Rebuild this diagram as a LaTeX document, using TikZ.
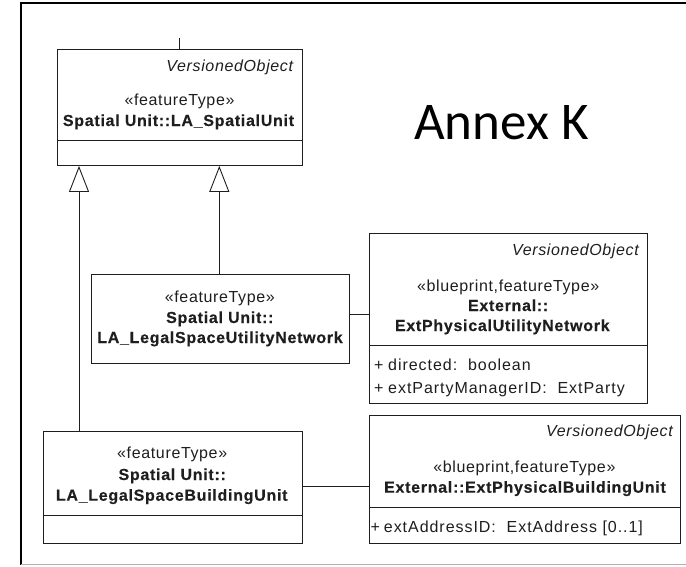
\documentclass[tikz,border=0pt]{standalone}
\usepackage{fontspec}
\setmainfont{Liberation Sans}[LetterSpace=4]
\newfontfamily\boldui{Liberation Sans Bold}[LetterSpace=4.5, FakeBold=0.4]
\newfontfamily\attrfont{Liberation Sans}[LetterSpace=6]
\newfontfamily\annexfont{Carlito}
\usetikzlibrary{arrows.meta}
\definecolor{ink}{HTML}{1E1E1E}
\begin{document}
\begin{tikzpicture}[x=1pt,y=-1pt,
  umlbox/.style={draw=ink, line width=0.9pt, rectangle, inner sep=0pt, anchor=north west},
  lbl/.style={inner sep=0pt, text=ink, font=\fontsize{16}{19}\selectfont},
  ttl/.style={lbl, font=\fontsize{16}{19}\boldui},
  tag/.style={lbl, font=\fontsize{16}{19}\itshape},
  attr/.style={lbl, anchor=base west, font=\fontsize{16}{19}\attrfont},
  assoc/.style={draw=ink, line width=0.9pt},
  gen/.style={draw=ink, line width=0.9pt,
    -{Triangle[open, length=26pt, width=20pt, fill=white]}}
]
\useasboundingbox (0,0) rectangle (686,566);

% frame
\draw[black, line width=2pt] (686,3.3) -- (20.5,3.3) -- (20.5,565);
\draw[gray!60, line width=1pt] (20.5,564.3) -- (686,564.3);

% LA_SpatialUnit
\node[umlbox, minimum width=245pt, minimum height=116pt] (su) at (57,49) {};
\draw[ink, line width=0.9pt] ([yshift=-91pt]su.north west) -- ([yshift=-91pt]su.north east);
\node[tag, anchor=base east] (suv) at (293.3,71) {VersionedObject};
\node[lbl, anchor=base] (sus) at (179.5,105) {«featureType»};
\node[ttl, anchor=base] (sun) at (178.5,126) {Spatial Unit::LA\_SpatialUnit};
\coordinate (suup) at (179,38);
\draw[assoc] (suup) -- (suup |- su.north);

% LA_LegalSpaceUtilityNetwork
\node[umlbox, minimum width=258.3pt, minimum height=88.7pt] (un) at (90.7,274) {};
\node[lbl, anchor=base] (uns) at (219.85,302.7) {«featureType»};
\node[ttl, anchor=base] (unp) at (219.85,323) {Spatial Unit::};
\node[ttl, anchor=base] (unn) at (220,343) {LA\_LegalSpaceUtilityNetwork};

% ExtPhysicalUtilityNetwork
\node[umlbox, minimum width=278.3pt, minimum height=170pt] (pn) at (369,232.7) {};
\draw[ink, line width=0.9pt] ([yshift=-112.3pt]pn.north west) -- ([yshift=-112.3pt]pn.north east);
\node[tag, anchor=base east] (pnv) at (639,255) {VersionedObject};
\node[lbl, anchor=base] (pns) at (508.15,291.5) {«blueprint,featureType»};
\node[ttl, anchor=base] (pnp) at (508.15,311) {External::};
\node[ttl, anchor=base] (pnn) at (502.3,331) {ExtPhysicalUtilityNetwork};
\node[attr] (pna) at (374,370) {\makebox[14pt][l]{+}directed:\ \ boolean};
\node[attr] (pnb) at (374,393) {\makebox[14pt][l]{+}extPartyManagerID:\ \ ExtParty};

% LA_LegalSpaceBuildingUnit
\node[umlbox, minimum width=259pt, minimum height=112pt] (bu) at (42.7,430.7) {};
\draw[ink, line width=0.9pt] ([yshift=-84.3pt]bu.north west) -- ([yshift=-84.3pt]bu.north east);
\node[lbl, anchor=base] (bus) at (172.2,458) {«featureType»};
\node[ttl, anchor=base] (bup) at (172.2,480) {Spatial Unit::};
\node[ttl, anchor=base] (bun) at (171.7,500.7) {LA\_LegalSpaceBuildingUnit};

% ExtPhysicalBuildingUnit
\node[umlbox, minimum width=310.7pt, minimum height=127.7pt] (pb) at (369,415) {};
\draw[ink, line width=0.9pt] ([yshift=-92.3pt]pb.north west) -- ([yshift=-92.3pt]pb.north east);
\node[tag, anchor=base east] (pbv) at (673,436.7) {VersionedObject};
\node[lbl, anchor=base] (pbs) at (524.35,472.7) {«blueprint,featureType»};
\node[ttl, anchor=base] (pbn) at (525,492.7) {External::ExtPhysicalBuildingUnit};
\node[attr] (pba) at (370.5,532.7) {\makebox[13.2pt][l]{+}extAddressID:\ \ ExtAddress [0..1]};

% title
\node[inner sep=0pt, anchor=base west, font=\fontsize{53}{60}\annexfont] (annex) at (414,139) {Annex K};

% generalizations
\coordinate (gl) at (79,0);
\coordinate (gr) at (219.3,0);
\draw[gen] (gl |- bu.north) -- (gl |- su.south);
\draw[gen] (gr |- un.north) -- (gr |- su.south);

% associations
\coordinate (a1) at (0,314.3);
\coordinate (a2) at (0,486);
\draw[assoc] (a1 -| un.east) -- (a1 -| pn.west);
\draw[assoc] (a2 -| bu.east) -- (a2 -| pb.west);
\end{tikzpicture}
\end{document}
